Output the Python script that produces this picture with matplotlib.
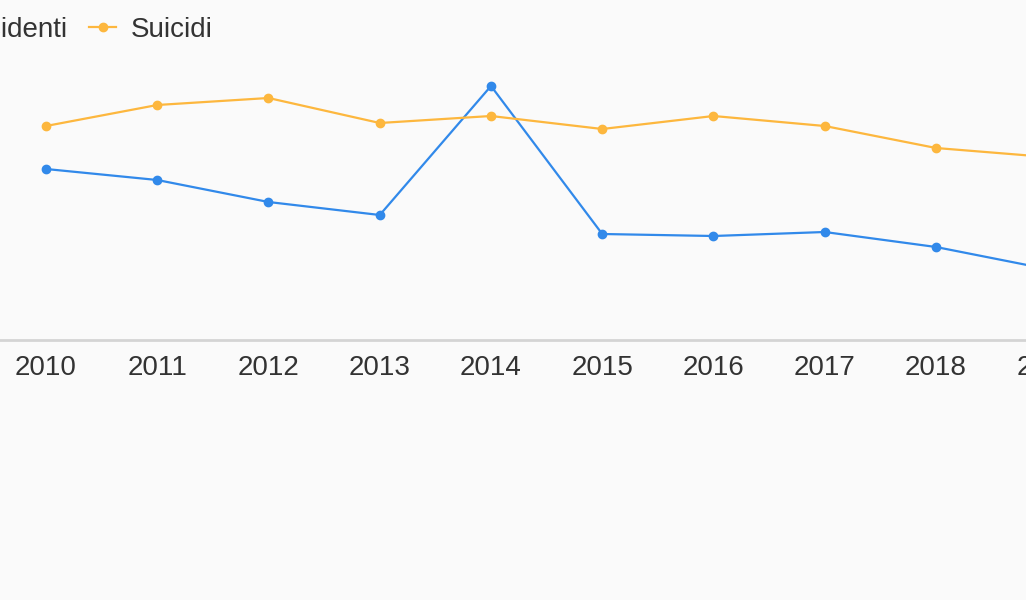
import matplotlib.pyplot as plt

anni = [2010, 2011, 2012, 2013, 2014, 2015, 2016, 2017, 2018, 2019]
incidenti = [171, 160, 138, 125, 254, 106, 104, 108, 93, 71]
suicidi = [214, 235, 242, 217, 224, 211, 224, 214, 192, 183]

blu = '#3189ea'
arancio = '#fdb73e'
W, H = 1026, 600

plt.rcParams['font.family'] = ['Liberation Sans', 'DejaVu Sans']

fig = plt.figure(figsize=(W / 100, H / 100), dpi=100, facecolor='#fafafa')
# the chart is cut at both sides: the axes run past the figure edges
x0, x1 = -100, 1200
ax = fig.add_axes([x0 / W, (H - 340) / H, (x1 - x0) / W, 280 / H])
ax.set_facecolor('#fafafa')

ax.plot(anni, incidenti, color=blu, lw=1.6, marker='o', ms=6, label='Incidenti')
ax.plot(anni, suicidi, color=arancio, lw=1.6, marker='o', ms=6, label='Suicidi')

ppy = 111.25
ax.set_xlim(2010 - (46 - x0) / ppy, 2010 + (x1 - 46) / ppy)
ax.set_ylim(0, 280)
ax.set_xticks(anni)
ax.set_yticks([])
for s in ['top', 'left', 'right']:
    ax.spines[s].set_visible(False)
ax.spines['bottom'].set_color('#d4d4d4')
ax.spines['bottom'].set_linewidth(2)
ax.tick_params(axis='x', length=0, pad=11, labelsize=20, labelcolor='#333333')

leg = ax.legend(loc='upper left', bbox_to_anchor=(-77 / W, 1 - 17 / H),
                bbox_transform=fig.transFigure, ncol=2, frameon=False,
                fontsize=20, handlelength=1.0, handletextpad=0.5,
                columnspacing=0.75, borderpad=0, borderaxespad=0)
for t in leg.get_texts():
    t.set_color('#333333')

fig.savefig('out.png', dpi=100, facecolor=fig.get_facecolor())
